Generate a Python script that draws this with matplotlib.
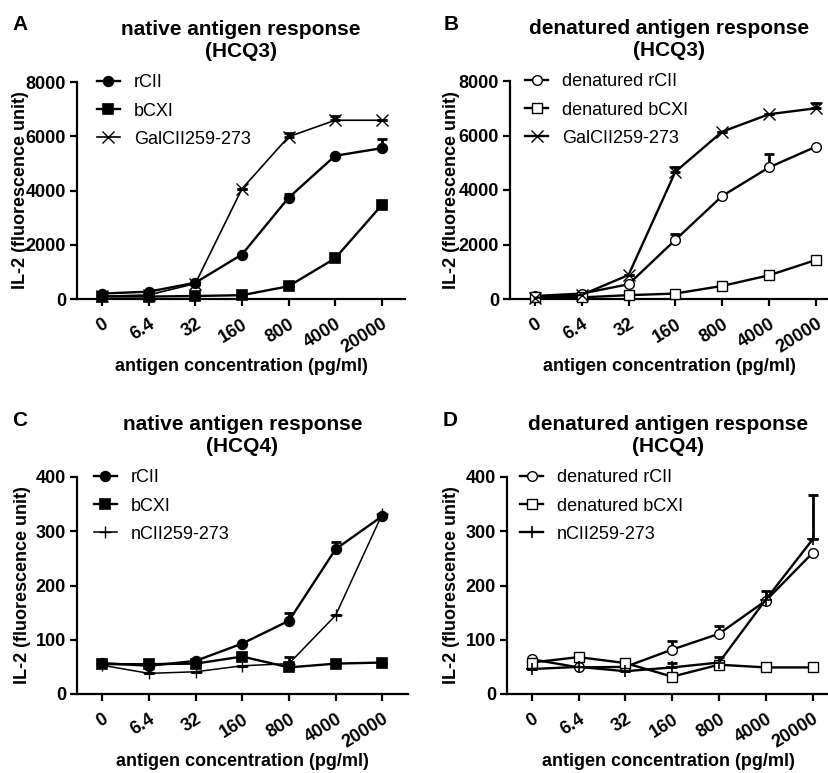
import matplotlib
matplotlib.use("Agg")
import matplotlib.pyplot as plt
import numpy as np

plt.rcParams['font.family'] = ['Liberation Sans', 'DejaVu Sans']

conc_labels = ["0", "6.4", "32", "160", "800", "4000", "20000"]

# Panel A: native antigen response (HCQ3)
a_rCII = [200, 270, 600, 1640, 3730, 5280, 5560]
a_rCII_err = [0, 0, 0, 0, 150, 0, 330]
a_bCXI = [90, 90, 110, 140, 470, 1500, 3460]
a_bCXI_err = [0, 0, 0, 0, 0, 0, 170]
a_Gal = [100, 150, 570, 4060, 5980, 6590, 6590]
a_Gal_err = [0, 0, 0, 0, 140, 170, 0]

# Panel B: denatured antigen response (HCQ3)
b_rCII = [110, 200, 540, 2170, 3780, 4830, 5590]
b_rCII_err = [0, 0, 0, 230, 0, 480, 0]
b_bCXI = [80, 60, 140, 200, 480, 870, 1430]
b_bCXI_err = [0, 0, 0, 0, 0, 0, 0]
b_Gal = [40, 150, 880, 4670, 6140, 6780, 7000]
b_Gal_err = [0, 0, 0, 190, 0, 0, 190]

# Panel C: native antigen response (HCQ4)
c_rCII = [57, 52, 61, 93, 135, 267, 328]
c_rCII_err = [0, 0, 0, 0, 15, 13, 0]
c_bCXI = [55, 55, 56, 69, 49, 56, 58]
c_bCXI_err = [6, 0, 0, 0, 0, 0, 0]
c_nCII = [53, 38, 41, 52, 56, 145, 332]
c_nCII_err = [0, 0, 0, 0, 13, 0, 0]

# Panel D: denatured antigen response (HCQ4)
d_rCII = [64, 49, 50, 82, 111, 172, 260]
d_rCII_err = [0, 0, 0, 16, 14, 0, 0]
d_bCXI = [58, 68, 57, 32, 54, 49, 49]
d_bCXI_err = [0, 0, 0, 0, 0, 0, 0]
d_nCII = [46, 50, 42, 49, 58, 174, 285]
d_nCII_err = [0, 0, 0, 8, 11, 15, 82]

W, H = 829, 773
fig = plt.figure(figsize=(W / 100, H / 100), dpi=100)


def px_axes(left, right, top, bottom):
    return fig.add_axes([left / W, 1 - bottom / H, (right - left) / W, (bottom - top) / H])


def style_axes(ax, ymax, ystep, title, letter, letter_xy, ylab_x, xl):
    x = np.arange(len(conc_labels))
    ax.set_xlim(*xl)
    ax.set_ylim(0, ymax)
    ax.set_yticks(np.arange(0, ymax + 1, ystep))
    ax.set_xticks(x)
    ax.set_xticklabels(conc_labels, rotation=32, ha='right', va='top',
                       rotation_mode='anchor', fontweight='bold', fontsize=13)
    for lab in ax.get_yticklabels():
        lab.set_fontweight('bold')
        lab.set_fontsize(13)
    for s in ['top', 'right']:
        ax.spines[s].set_visible(False)
    for s in ['left', 'bottom']:
        ax.spines[s].set_linewidth(1.6)
    ax.tick_params(axis='both', width=1.6, length=5, pad=3)
    ax.tick_params(axis='x', pad=7)
    ax.set_title(title, fontsize=15, fontweight='bold', pad=18, linespacing=1.2)
    ax.set_ylabel("IL-2 (fluorescence unit)", fontsize=13, fontweight='bold')
    ax.yaxis.set_label_coords(ylab_x, 0.5)
    ax.set_xlabel("antigen concentration (pg/ml)", fontsize=13, fontweight='bold')
    ax.xaxis.set_label_coords(0.5, -0.27)
    fig.text(letter_xy[0] / W, 1 - letter_xy[1] / H, letter, fontsize=15,
             fontweight='bold', ha='left', va='center')


def series(ax, y, err, marker, label, filled=True, lw=1.7, ms=7, mew=1.2):
    x = np.arange(len(y))
    y = np.asarray(y, float)
    err = np.asarray(err, float)
    ax.errorbar(x, y, yerr=[np.zeros_like(err), err], fmt='none', ecolor='black',
                elinewidth=2.0, capsize=3.8, capthick=2.0, zorder=2)
    face = 'black' if filled else 'white'
    ax.plot(x, y, color='black', lw=lw, marker=marker, markersize=ms,
            markerfacecolor=face, markeredgecolor='black', markeredgewidth=mew,
            label=label, zorder=3, clip_on=False)


def legend(ax, xa, ya):
    ax.legend(loc='upper left', bbox_to_anchor=(xa, ya), frameon=False, fontsize=13,
              handlelength=1.3, handletextpad=0.75, labelspacing=0.62,
              borderpad=0, borderaxespad=0)


# A
axA = px_axes(77, 405, 82, 299)
series(axA, a_rCII, a_rCII_err, 'o', 'rCII')
series(axA, a_bCXI, a_bCXI_err, 's', 'bCXI')
series(axA, a_Gal, a_Gal_err, 'x', 'GalCII259-273', lw=1.2, ms=8, mew=1.0)
style_axes(axA, 8000, 2000, "native antigen response\n(HCQ3)", "A", (12, 24), -0.145, (-0.54, 6.5))
legend(axA, 0.06, 1.035)

# B
axB = px_axes(510, 829, 81, 299)
series(axB, b_rCII, b_rCII_err, 'o', 'denatured rCII', filled=False, mew=1.0)
series(axB, b_bCXI, b_bCXI_err, 's', 'denatured bCXI', filled=False, mew=1.0)
series(axB, b_Gal, b_Gal_err, 'x', 'GalCII259-273', ms=8, mew=1.0)
style_axes(axB, 8000, 2000, "denatured antigen response\n(HCQ3)", "B", (444, 24), -0.158, (-0.53, 6.28))
legend(axB, 0.047, 1.035)

# C
axC = px_axes(77, 408, 477, 694)
series(axC, c_rCII, c_rCII_err, 'o', 'rCII')
series(axC, c_bCXI, c_bCXI_err, 's', 'bCXI')
series(axC, c_nCII, c_nCII_err, '+', 'nCII259-273', lw=1.1, ms=9, mew=1.0)
style_axes(axC, 400, 100, "native antigen response\n(HCQ4)", "C", (12, 420), -0.14, (-0.54, 6.55))
legend(axC, 0.05, 1.035)

# D
axD = px_axes(507, 829, 477, 694)
series(axD, d_rCII, d_rCII_err, 'o', 'denatured rCII', filled=False, mew=1.0)
series(axD, d_bCXI, d_bCXI_err, 's', 'denatured bCXI', filled=False, mew=1.0)
series(axD, d_nCII, d_nCII_err, '+', 'nCII259-273', ms=9, mew=1.2)
style_axes(axD, 400, 100, "denatured antigen response\n(HCQ4)", "D", (443, 420), -0.146, (-0.53, 6.35))
legend(axD, 0.04, 1.035)

fig.savefig("out.png", dpi=100)
